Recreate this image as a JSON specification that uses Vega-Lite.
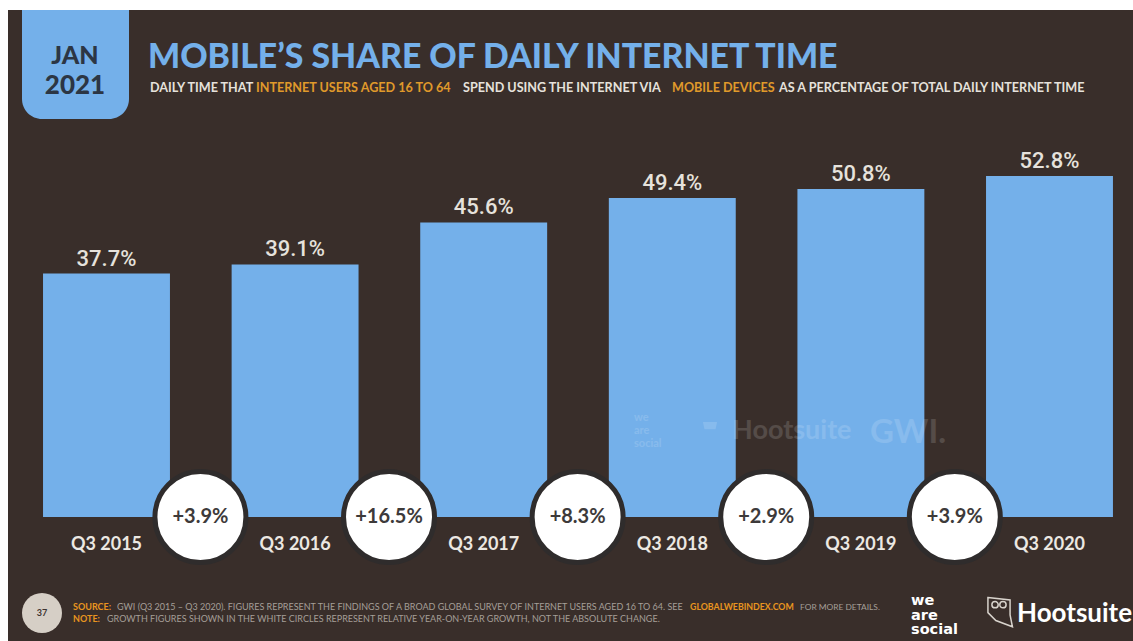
{
  "$schema": "https://vega.github.io/schema/vega-lite/v6.json",
  "width": 1133,
  "height": 641,
  "autosize": {"type": "fit", "contains": "padding"},
  "padding": {"left": 8, "top": 10, "right": 0, "bottom": 0},
  "background": "#ffffff",
  "view": {"fill": "#392e2a", "stroke": null},
  "datasets": {
    "share": [
      {"period": "Q3 2015", "share": 37.7, "label": "37.7%"},
      {"period": "Q3 2016", "share": 39.1, "label": "39.1%"},
      {"period": "Q3 2017", "share": 45.6, "label": "45.6%"},
      {"period": "Q3 2018", "share": 49.4, "label": "49.4%"},
      {"period": "Q3 2019", "share": 50.8, "label": "50.8%"},
      {"period": "Q3 2020", "share": 52.8, "label": "52.8%"}
    ],
    "growth": [
      {"period": "Q3 2015", "growth": "+3.9%"},
      {"period": "Q3 2016", "growth": "+16.5%"},
      {"period": "Q3 2017", "growth": "+8.3%"},
      {"period": "Q3 2018", "growth": "+2.9%"},
      {"period": "Q3 2019", "growth": "+3.9%"}
    ],
    "one": [{"n": 1}]
  },
  "layer": [
    {
      "data": {"name": "share"},
      "encoding": {
        "x": {
          "field": "period",
          "type": "ordinal",
          "title": null,
          "scale": {"paddingInner": 0.327, "paddingOuter": 0.146, "align": 0.636},
          "axis": {
            "orient": "bottom",
            "offset": -106,
            "domain": false,
            "ticks": false,
            "labelAngle": 0,
            "labelColor": "#ece8e2",
            "labelFont": "Lato",
            "labelFontWeight": "bold",
            "labelFontSize": 18,
            "labelPadding": 0
          }
        }
      },
      "layer": [
        {
          "mark": {"type": "bar", "color": "#74b0ea"},
          "encoding": {
            "y": {
              "field": "share",
              "type": "quantitative",
              "title": null,
              "axis": null,
              "scale": {"domain": [-19.2, 78.5], "nice": false, "zero": false}
            }
          }
        },
        {
          "mark": {"type": "text", "baseline": "alphabetic", "dy": -8, "color": "#e6e2dc", "font": "Roboto", "fontWeight": 500, "fontSize": 22},
          "encoding": {
            "y": {"field": "share", "type": "quantitative"},
            "text": {"field": "label"}
          }
        },
        {
          "data": {"name": "growth"},
          "mark": {"type": "circle", "fill": "#ffffff", "fillOpacity": 1, "stroke": "#2f2c2c", "strokeWidth": 5, "size": 8281},
          "encoding": {
            "x": {"field": "period", "type": "ordinal", "bandPosition": 1.24},
            "y": {"datum": 0, "type": "quantitative"}
          }
        },
        {
          "data": {"name": "growth"},
          "mark": {"type": "text", "color": "#3d3a3a", "font": "Lato", "fontWeight": "bold", "fontSize": 20},
          "encoding": {
            "x": {"field": "period", "type": "ordinal", "bandPosition": 1.24},
            "y": {"datum": 0, "type": "quantitative"},
            "text": {"field": "growth"}
          }
        }
      ]
    },
    {
      "data": {"name": "one"},
      "layer": [
        {"mark": {"type": "rect", "fill": "#74b0ea", "cornerRadiusBottomLeft": 20, "cornerRadiusBottomRight": 20},
         "encoding": {"x": {"value": 14}, "x2": {"value": 121}, "y": {"value": 0}, "y2": {"value": 109}}},
        {"mark": {"type": "text", "text": "JAN", "align": "center", "baseline": "alphabetic", "font": "Lato", "fontWeight": 900, "fontSize": 25, "color": "#2c3644"},
         "encoding": {"x": {"value": 67}, "y": {"value": 54}}},
        {"mark": {"type": "text", "text": "2021", "align": "center", "baseline": "alphabetic", "font": "Lato", "fontWeight": 900, "fontSize": 26, "color": "#2c3644"},
         "encoding": {"x": {"value": 67}, "y": {"value": 84}}},
        {"mark": {"type": "text", "text": "MOBILE’S SHARE OF DAILY INTERNET TIME", "align": "left", "baseline": "alphabetic", "font": "Lato", "fontWeight": 900, "fontSize": 33.8, "color": "#74b0ea"},
         "encoding": {"x": {"value": 140}, "y": {"value": 58}}},
        {"mark": {"type": "text", "text": "DAILY TIME THAT", "align": "left", "baseline": "alphabetic", "font": "Lato", "fontWeight": "bold", "fontSize": 12.6, "color": "#e6e2dc"},
         "encoding": {"x": {"value": 142}, "y": {"value": 82}}},
        {"mark": {"type": "text", "text": "INTERNET USERS AGED 16 TO 64", "align": "left", "baseline": "alphabetic", "font": "Lato", "fontWeight": "bold", "fontSize": 12.6, "color": "#e09a2a"},
         "encoding": {"x": {"value": 248}, "y": {"value": 82}}},
        {"mark": {"type": "text", "text": "SPEND USING THE INTERNET VIA", "align": "left", "baseline": "alphabetic", "font": "Lato", "fontWeight": "bold", "fontSize": 12.6, "color": "#e6e2dc"},
         "encoding": {"x": {"value": 455}, "y": {"value": 82}}},
        {"mark": {"type": "text", "text": "MOBILE DEVICES", "align": "left", "baseline": "alphabetic", "font": "Lato", "fontWeight": "bold", "fontSize": 12.6, "color": "#e09a2a"},
         "encoding": {"x": {"value": 664}, "y": {"value": 82}}},
        {"mark": {"type": "text", "text": "AS A PERCENTAGE OF TOTAL DAILY INTERNET TIME", "align": "left", "baseline": "alphabetic", "font": "Lato", "fontWeight": "bold", "fontSize": 12.6, "color": "#e6e2dc"},
         "encoding": {"x": {"value": 771}, "y": {"value": 82}}},

        {"mark": {"type": "text", "text": "Hootsuite", "align": "left", "baseline": "middle", "font": "Lato", "fontWeight": "bold", "fontSize": 27, "color": "#ffffff", "opacity": 0.14},
         "encoding": {"x": {"value": 724}, "y": {"value": 421}}},
        {"mark": {"type": "text", "text": "GWI.", "align": "left", "baseline": "middle", "font": "Lato", "fontWeight": "bold", "fontSize": 33, "color": "#ffffff", "opacity": 0.14},
         "encoding": {"x": {"value": 862}, "y": {"value": 423}}},
        {"mark": {"type": "text", "text": "we", "align": "left", "baseline": "middle", "font": "Lato", "fontWeight": "bold", "fontSize": 11, "color": "#ffffff", "opacity": 0.14},
         "encoding": {"x": {"value": 626}, "y": {"value": 408}}},
        {"mark": {"type": "text", "text": "are", "align": "left", "baseline": "middle", "font": "Lato", "fontWeight": "bold", "fontSize": 11, "color": "#ffffff", "opacity": 0.14},
         "encoding": {"x": {"value": 626}, "y": {"value": 421}}},
        {"mark": {"type": "text", "text": "social", "align": "left", "baseline": "middle", "font": "Lato", "fontWeight": "bold", "fontSize": 11, "color": "#ffffff", "opacity": 0.14},
         "encoding": {"x": {"value": 626}, "y": {"value": 434}}},
        {"mark": {"type": "point", "shape": "M-0.9,-0.5 L0.9,-0.5 L0.7,0.4 L-0.7,0.4 Z", "size": 250, "filled": true, "fill": "#ffffff", "opacity": 0.14},
         "encoding": {"x": {"value": 702}, "y": {"value": 416}}},

        {"mark": {"type": "circle", "fill": "#d6cfc6", "fillOpacity": 1, "size": 1600},
         "encoding": {"x": {"value": 34}, "y": {"value": 603}}},
        {"mark": {"type": "text", "text": "37", "align": "center", "baseline": "middle", "font": "Lato", "fontWeight": "bold", "fontSize": 9, "color": "#3d3330"},
         "encoding": {"x": {"value": 34}, "y": {"value": 603}}},
        {"mark": {"type": "text", "text": "SOURCE:", "align": "left", "baseline": "alphabetic", "font": "Lato", "fontWeight": "bold", "fontSize": 9, "color": "#e8951f"},
         "encoding": {"x": {"value": 65}, "y": {"value": 600}}},
        {"mark": {"type": "text", "text": "GWI (Q3 2015 – Q3 2020). FIGURES REPRESENT THE FINDINGS OF A BROAD GLOBAL SURVEY OF INTERNET USERS AGED 16 TO 64. SEE", "align": "left", "baseline": "alphabetic", "font": "Lato", "fontSize": 9, "color": "#a59f98"},
         "encoding": {"x": {"value": 109}, "y": {"value": 600}}},
        {"mark": {"type": "text", "text": "GLOBALWEBINDEX.COM", "align": "left", "baseline": "alphabetic", "font": "Lato", "fontWeight": "bold", "fontSize": 8.8, "color": "#e8951f"},
         "encoding": {"x": {"value": 682}, "y": {"value": 600}}},
        {"mark": {"type": "text", "text": "FOR MORE DETAILS.", "align": "left", "baseline": "alphabetic", "font": "Lato", "fontSize": 8.4, "color": "#a59f98"},
         "encoding": {"x": {"value": 792}, "y": {"value": 600}}},
        {"mark": {"type": "text", "text": "NOTE:", "align": "left", "baseline": "alphabetic", "font": "Lato", "fontWeight": "bold", "fontSize": 9, "color": "#e8951f"},
         "encoding": {"x": {"value": 65}, "y": {"value": 612}}},
        {"mark": {"type": "text", "text": "GROWTH FIGURES SHOWN IN THE WHITE CIRCLES REPRESENT RELATIVE YEAR-ON-YEAR GROWTH, NOT THE ABSOLUTE CHANGE.", "align": "left", "baseline": "alphabetic", "font": "Lato", "fontSize": 9, "color": "#a59f98"},
         "encoding": {"x": {"value": 99}, "y": {"value": 612}}},

        {"mark": {"type": "text", "text": "we", "align": "left", "baseline": "alphabetic", "font": "DejaVu Sans", "fontWeight": "bold", "fontSize": 14.5, "color": "#ffffff"},
         "encoding": {"x": {"value": 903}, "y": {"value": 595}}},
        {"mark": {"type": "text", "text": "are", "align": "left", "baseline": "alphabetic", "font": "DejaVu Sans", "fontWeight": "bold", "fontSize": 14.5, "color": "#ffffff"},
         "encoding": {"x": {"value": 903}, "y": {"value": 609.5}}},
        {"mark": {"type": "text", "text": "social", "align": "left", "baseline": "alphabetic", "font": "DejaVu Sans", "fontWeight": "bold", "fontSize": 14.5, "color": "#ffffff"},
         "encoding": {"x": {"value": 903}, "y": {"value": 624}}},
        {"mark": {"type": "point", "shape": "M-0.7,-0.85 L0.7,-0.7 L0.7,0.25 L0.85,1 L-0.2,0.6 L-0.7,0.1 Z M-0.45,-0.4 A0.2,0.2 0 1 1 -0.05,-0.4 A0.2,0.2 0 1 1 -0.45,-0.4 M0.05,-0.4 A0.2,0.2 0 1 1 0.45,-0.4 A0.2,0.2 0 1 1 0.05,-0.4", "size": 1000, "filled": false, "stroke": "#d8d3cc", "strokeWidth": 1.5, "opacity": 1},
         "encoding": {"x": {"value": 991}, "y": {"value": 601}}},
        {"mark": {"type": "text", "text": "Hootsuite", "align": "left", "baseline": "alphabetic", "font": "Lato", "fontWeight": "bold", "fontSize": 26, "color": "#ffffff"},
         "encoding": {"x": {"value": 1009}, "y": {"value": 612}}}
      ]
    }
  ]
}
